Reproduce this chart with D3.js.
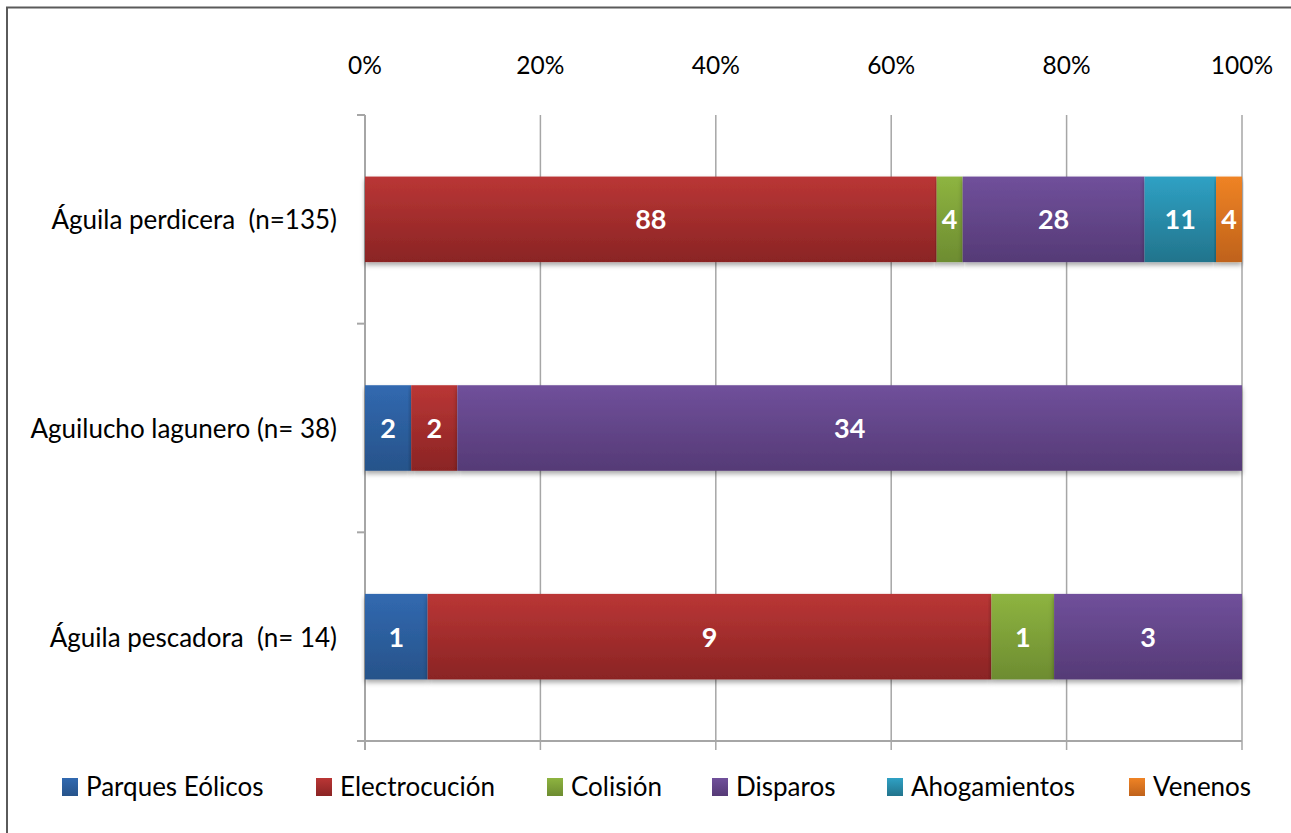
<!DOCTYPE html>
<html>
<head>
<meta charset="utf-8">
<script src="https://cdn.jsdelivr.net/npm/d3@7"></script>
<style>
  html, body { margin: 0; padding: 0; background: #fff; }
  svg { display: block; }
  text { font-family: "Lato", "Open Sans", sans-serif; }
</style>
</head>
<body>
<svg id="chart" width="1291" height="833"></svg>
<script>
// Causes of death by species (counts); bars are shown as share of each species' total
const species = ["Águila perdicera  (n=135)", "Aguilucho lagunero (n= 38)", "Águila pescadora  (n= 14)"];
const causes = ["Parques Eólicos", "Electrocución", "Colisión", "Disparos", "Ahogamientos", "Venenos"];
const parquesEolicos = [0, 2, 1];
const electrocucion  = [88, 2, 9];
const colision       = [4, 0, 1];
const disparos       = [28, 34, 3];
const ahogamientos   = [11, 0, 0];
const venenos        = [4, 0, 0];
const tickValues = [0, 0.2, 0.4, 0.6, 0.8, 1.0];
const colorsTop    = ["#3169B0", "#BA3635", "#8EB440", "#70509B", "#2FA1C4", "#EF8325"];
const colorsBottom = ["#27538A", "#8A2424", "#6D8C31", "#553A76", "#22748C", "#BF621B"];

const series = [parquesEolicos, electrocucion, colision, disparos, ahogamientos, venenos];
const rows = species.map((s, i) => {
  const row = { species: s };
  causes.forEach((c, j) => row[c] = series[j][i]);
  row.total = causes.reduce((a, c) => a + row[c], 0);
  return row;
});

const svg = d3.select("#chart");
const plotLeft = 365, plotRight = 1242, plotTop = 115, plotBottom = 741;

// outer frame
svg.append("path").attr("d", "M7,833 V7.5 H1291").attr("fill", "none")
  .attr("stroke", "#5a5a5a").attr("stroke-width", 2);

const defs = svg.append("defs");
causes.forEach((c, j) => {
  const g = defs.append("linearGradient").attr("id", "g" + j)
    .attr("x1", 0).attr("y1", 0).attr("x2", 0).attr("y2", 1);
  g.append("stop").attr("offset", "0%").attr("stop-color", colorsTop[j]);
  g.append("stop").attr("offset", "100%").attr("stop-color", colorsBottom[j]);
});
const shadow = defs.append("filter").attr("id", "shadow")
  .attr("x", "-5%").attr("y", "-10%").attr("width", "110%").attr("height", "130%");
shadow.append("feDropShadow").attr("dx", 0).attr("dy", 3).attr("stdDeviation", 2.5)
  .attr("flood-color", "#000").attr("flood-opacity", 0.35);

const x = d3.scaleLinear().domain([0, 1]).range([plotLeft, plotRight]);
const y = d3.scaleBand().domain(species).range([plotTop, plotBottom]).paddingInner(0.59).paddingOuter(0.295);

// vertical gridlines
svg.append("g").selectAll("line").data(tickValues).join("line")
  .attr("x1", d => x(d)).attr("x2", d => x(d))
  .attr("y1", plotTop).attr("y2", plotBottom + 9)
  .attr("stroke", "#a6a6a6").attr("stroke-width", 1.5);

// top percentage labels
svg.append("g").selectAll("text").data(tickValues).join("text")
  .attr("x", d => x(d)).attr("y", 74)
  .attr("text-anchor", "middle").attr("font-size", 24.5).attr("fill", "#000")
  .text(d3.format(".0%"));

// category axis
svg.append("line").attr("x1", plotLeft).attr("x2", plotLeft).attr("y1", plotTop).attr("y2", plotBottom + 9)
  .attr("stroke", "#a6a6a6").attr("stroke-width", 2);
svg.append("line").attr("x1", plotLeft - 8).attr("x2", plotRight).attr("y1", plotBottom).attr("y2", plotBottom)
  .attr("stroke", "#a6a6a6").attr("stroke-width", 2);
const step = (plotBottom - plotTop) / species.length;
svg.append("g").selectAll("line").data(d3.range(species.length + 1)).join("line")
  .attr("x1", plotLeft - 8).attr("x2", plotLeft)
  .attr("y1", i => plotTop + i * step).attr("y2", i => plotTop + i * step)
  .attr("stroke", "#a6a6a6").attr("stroke-width", 2);

svg.append("g").selectAll("text").data(species).join("text")
  .attr("x", 337).attr("y", d => y(d) + y.bandwidth() / 2 + 10)
  .attr("text-anchor", "end").attr("font-size", 26).attr("fill", "#000")
  .style("white-space", "pre")
  .text(d => d);

// stacked bars
const stack = d3.stack().keys(causes).offset(d3.stackOffsetExpand);
const layers = stack(rows);

const layerG = svg.append("g").selectAll("g").data(layers).join("g")
  .attr("fill", (d, j) => `url(#g${j})`);
layerG.selectAll("rect").data(d => d.map(p => ({ p, key: d.key }))).join("rect")
  .filter(d => d.p[1] > d.p[0])
  .attr("x", d => x(d.p[0])).attr("width", d => x(d.p[1]) - x(d.p[0]))
  .attr("y", d => y(d.p.data.species)).attr("height", y.bandwidth())
  .attr("filter", "url(#shadow)");

// value labels
layers.forEach(layer => {
  svg.append("g").selectAll("text").data(layer.filter(p => p.data[layer.key] > 0)).join("text")
    .attr("x", p => (x(p[0]) + x(p[1])) / 2)
    .attr("y", p => y(p.data.species) + y.bandwidth() / 2 + 10)
    .attr("text-anchor", "middle").attr("font-size", 27).attr("font-weight", "bold")
    .attr("fill", "#fff")
    .text(p => p.data[layer.key]);
});

// legend
const legendX = [62, 316, 547, 712, 887, 1129];
const lg = svg.append("g").selectAll("g").data(causes).join("g")
  .attr("transform", (d, i) => `translate(${legendX[i]},778)`);
lg.append("rect").attr("width", 16).attr("height", 18)
  .attr("fill", (d, i) => `url(#g${i})`);
lg.append("text").attr("x", 24).attr("y", 18).attr("font-size", 26).attr("fill", "#000")
  .text(d => d);
</script>
</body>
</html>
